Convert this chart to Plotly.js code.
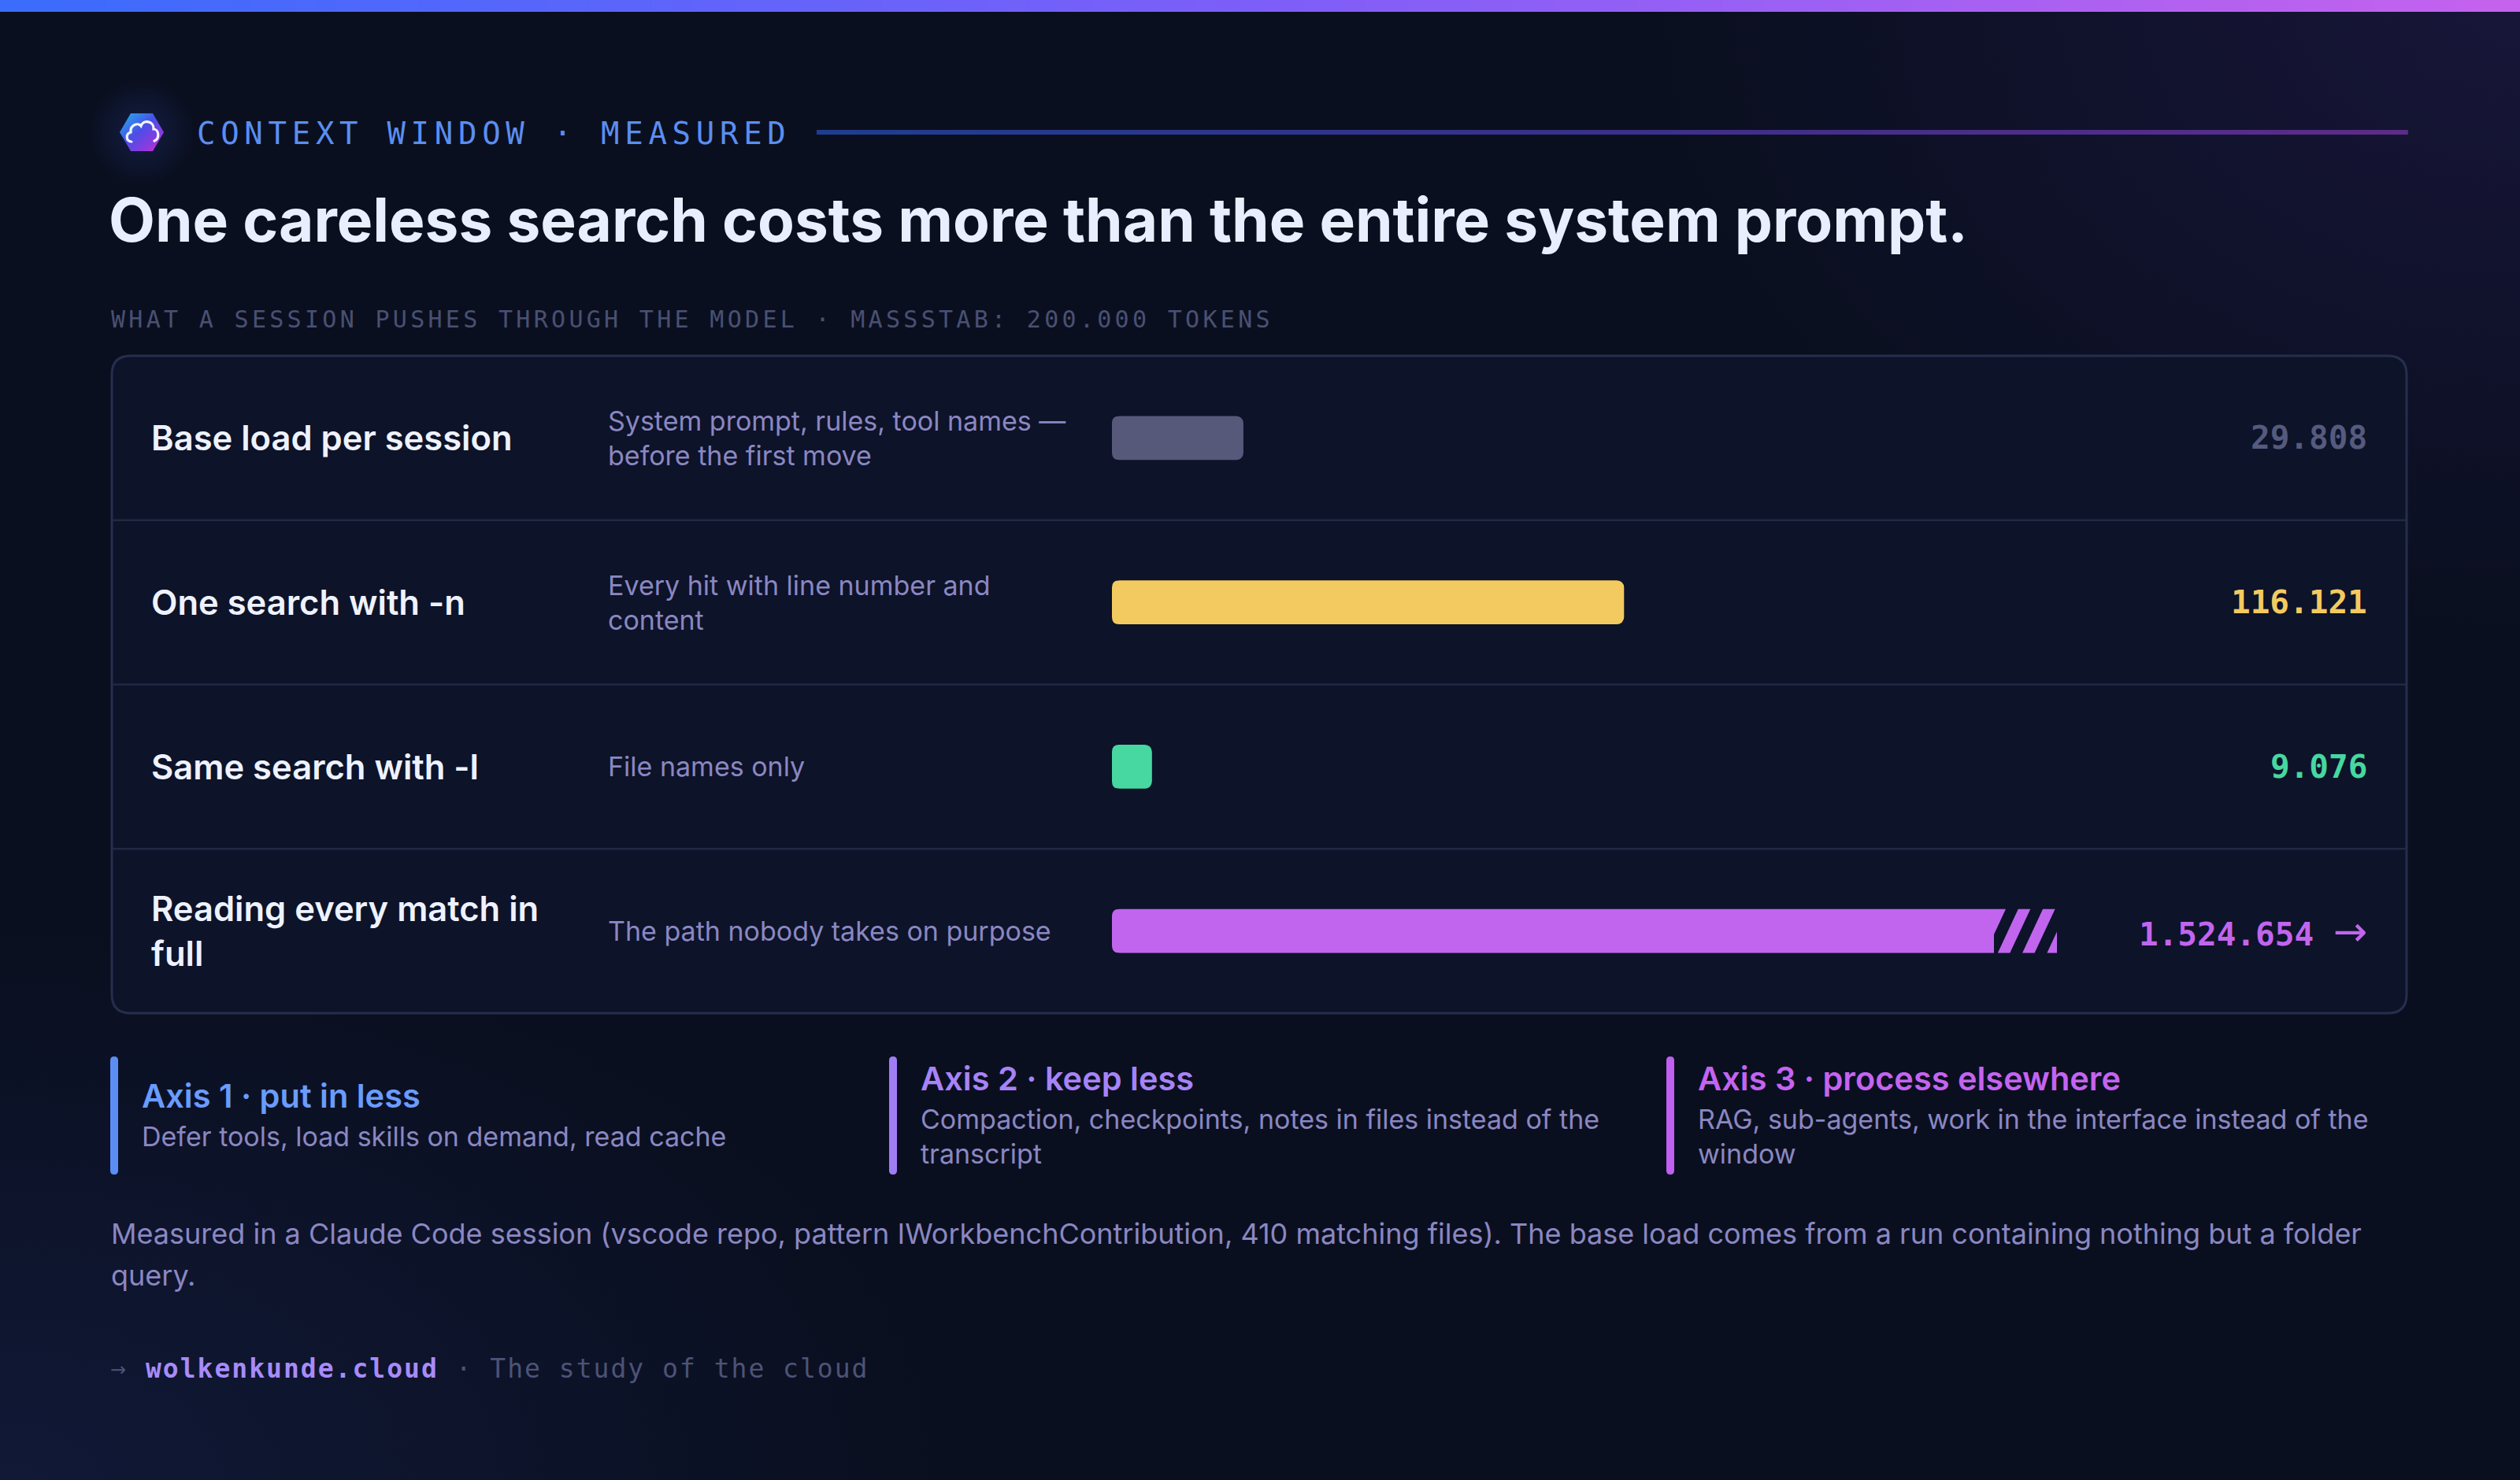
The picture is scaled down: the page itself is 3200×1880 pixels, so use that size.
<!DOCTYPE html>
<html>
<head>
<meta charset="utf-8">
<script src="https://cdn.plot.ly/plotly-3.0.1.min.js"></script>
<style>
  html, body { margin: 0; padding: 0; }
  body {
    width: 3200px; height: 1880px; overflow: hidden;
    background:
      radial-gradient(ellipse 1100px 800px at 100% 0%, rgba(70, 45, 150, 0.22), rgba(0,0,0,0) 100%),
      radial-gradient(ellipse 1200px 700px at 0% 100%, rgba(35, 55, 130, 0.24), rgba(0,0,0,0) 100%),
      #0a0f1f;
  }
  #chart { width: 3200px; height: 1880px; }
  /* tracking for the monospace captions */
  text[style*="font-size: 39px"] { letter-spacing: 6.7px; }
  text[style*="font-size: 30px"] { letter-spacing: 4.3px; }
  text[style*="font-size: 33px"] { letter-spacing: 2px; }
</style>
</head>
<body>
<div id="chart"></div>
<script>
// ---------------- data ----------------
const categories = ['Base load per session', 'One search with -n', 'Same search with -l', 'Reading every match in full'];
const labelLines = ['Base load per session', 'One search with -n', 'Same search with -l', 'Reading every match in<br>full'];
const descriptions = [
  'System prompt, rules, tool names —<br>before the first move',
  'Every hit with line number and<br>content',
  'File names only',
  'The path nobody takes on purpose'
];
const tokens = [29808, 116121, 9076, 1524654];
const scaleMax = 200000;
const barColors = ['#57597b', '#f3ca60', '#47d7a1', '#c165ef'];
const valueColors = ['#555a7e', '#f3ca60', '#47d7a1', '#c165ef'];

const axisTitles = ['Axis 1 · put in less', 'Axis 2 · keep less', 'Axis 3 · process elsewhere'];
const axisTexts = [
  'Defer tools, load skills on demand, read cache',
  'Compaction, checkpoints, notes in files instead of the<br>transcript',
  'RAG, sub-agents, work in the interface instead of the<br>window'
];
const axisColors = ['#5b8ef5', '#9f7df4', '#c05ff0'];
const axisTitleColors = ['#6a9cff', '#a783f8', '#c563f1'];

const kicker = 'CONTEXT WINDOW · MEASURED';
const headline = 'One careless search costs more than the entire system prompt.';
const footnoteLines = [
  'Measured in a Claude Code session (vscode repo, pattern IWorkbenchContribution, 410 matching files). The base load comes from a run containing nothing but a folder',
  'query.'
];
const siteName = 'wolkenkunde.cloud';
const siteTagline = 'The study of the cloud';

// ---------------- helpers ----------------
const W = 3200, H = 1880;
const px = x => x / W;
const py = y => 1 - y / H;
const fmt = v => String(v).replace(/\B(?=(\d{3})+(?!\d))/g, '.');
const SANS = 'Inter, "Noto Sans", sans-serif';
const MONO = '"DejaVu Sans Mono", "Liberation Mono", monospace';

function hexToRgb(h) { return [1,3,5].map(i => parseInt(h.substr(i,2),16)); }
function lerpColor(stops, t) {
  const n = stops.length - 1;
  const k = Math.min(n - 1, Math.floor(t * n));
  const u = t * n - k;
  const a = hexToRgb(stops[k]), b = hexToRgb(stops[k+1]);
  const c = a.map((v, i) => Math.round(v + (b[i] - v) * u));
  return 'rgb(' + c.join(',') + ')';
}
function P(x, y) { return px(x).toFixed(6) + ',' + py(y).toFixed(6); }
function roundRect(x0, y0, x1, y1, r) {
  return 'M' + P(x0 + r, y0) + ' L' + P(x1 - r, y0) + ' Q' + P(x1, y0) + ' ' + P(x1, y0 + r) +
    ' L' + P(x1, y1 - r) + ' Q' + P(x1, y1) + ' ' + P(x1 - r, y1) +
    ' L' + P(x0 + r, y1) + ' Q' + P(x0, y1) + ' ' + P(x0, y1 - r) +
    ' L' + P(x0, y0 + r) + ' Q' + P(x0, y0) + ' ' + P(x0 + r, y0) + ' Z';
}
function polyPath(pts) { return 'M' + pts.map(p => P(p[0], p[1])).join(' L') + ' Z'; }
function clipX(poly, a, keepGreater) {
  const out = [];
  const inside = p => keepGreater ? p[0] >= a : p[0] <= a;
  for (let i = 0; i < poly.length; i++) {
    const cur = poly[i], prev = poly[(i + poly.length - 1) % poly.length];
    const ci = inside(cur), pi = inside(prev);
    if (ci) {
      if (!pi) { const t = (a - prev[0]) / (cur[0] - prev[0]); out.push([a, prev[1] + t * (cur[1] - prev[1])]); }
      out.push(cur);
    } else if (pi) {
      const t = (a - prev[0]) / (cur[0] - prev[0]); out.push([a, prev[1] + t * (cur[1] - prev[1])]);
    }
  }
  return out;
}

// ---------------- geometry of the bar panel ----------------
const BOX = { x0: 142, y0: 452, x1: 3056, y1: 1287, r: 24 };
const TRACK = { x0: 1412, x1: 2532 };
const ROW_H = (BOX.y1 - BOX.y0) / categories.length;
const BAR_FRAC = 0.268;
const BAR_H = ROW_H * BAR_FRAC;
const rowCenter = i => BOX.y0 + (i + 0.5) * ROW_H;
const BOX_FILL = '#0d1328';

const shapes = [];
// top gradient strip
const topStops = ['#3b6cfc', '#7d5ef8', '#c562ee'];
for (let i = 0, n = 120; i < n; i++) {
  shapes.push({ type: 'rect', xref: 'paper', yref: 'paper', layer: 'below',
    x0: px(i * W / n), x1: px((i + 1) * W / n + 1), y0: py(0), y1: py(15),
    fillcolor: lerpColor(topStops, i / (n - 1)), line: { width: 0 } });
}
// kicker rule
const ruleStops = ['#1f3d8f', '#3a2f8a', '#5c2c88'];
for (let i = 0, n = 80, a = 1037, b = 3057; i < n; i++) {
  shapes.push({ type: 'rect', xref: 'paper', yref: 'paper', layer: 'below',
    x0: px(a + i * (b - a) / n), x1: px(a + (i + 1) * (b - a) / n + 0.8), y0: py(165), y1: py(171),
    fillcolor: lerpColor(ruleStops, i / (n - 1)), line: { width: 0 } });
}
// panel
shapes.push({ type: 'path', xref: 'paper', yref: 'paper', layer: 'below',
  path: roundRect(BOX.x0, BOX.y0, BOX.x1, BOX.y1, BOX.r),
  fillcolor: BOX_FILL, line: { color: '#262e4c', width: 3 } });
for (let k = 1; k < categories.length; k++) {
  const y = BOX.y0 + k * ROW_H;
  shapes.push({ type: 'line', xref: 'paper', yref: 'paper', layer: 'below',
    x0: px(BOX.x0 + 1), x1: px(BOX.x1 - 1), y0: py(y), y1: py(y),
    line: { color: '#212944', width: 2.5 } });
}
// round the base of each bar (Plotly rounds the far end only)
const R = 9;
categories.forEach((c, i) => {
  const yt = rowCenter(i) - BAR_H / 2, yb = rowCenter(i) + BAR_H / 2, x0 = TRACK.x0;
  shapes.push({ type: 'path', xref: 'paper', yref: 'paper', layer: 'above', fillcolor: BOX_FILL, line: { width: 0 },
    path: 'M' + P(x0 - 1, yt - 1) + ' L' + P(x0 + R, yt - 1) + ' L' + P(x0 + R, yt) + ' Q' + P(x0, yt) + ' ' + P(x0, yt + R) + ' L' + P(x0 - 1, yt + R) + ' Z' });
  shapes.push({ type: 'path', xref: 'paper', yref: 'paper', layer: 'above', fillcolor: BOX_FILL, line: { width: 0 },
    path: 'M' + P(x0 - 1, yb + 1) + ' L' + P(x0 + R, yb + 1) + ' L' + P(x0 + R, yb) + ' Q' + P(x0, yb) + ' ' + P(x0, yb - R) + ' L' + P(x0 - 1, yb - R) + ' Z' });
});
// break marks for values beyond the scale
const annotations = [];
categories.forEach((c, i) => {
  if (tokens[i] <= scaleMax) return;
  const yt = rowCenter(i) - BAR_H / 2, yb = rowCenter(i) + BAR_H / 2;
  const a = TRACK.x1, b = a + 80;
  const period = 31.3, stripe = 15.5, shift = 26;
  for (let tl = a - 0.5 - period; tl < b + shift + period; tl += period) {
    let poly = [[tl, yt], [tl + stripe, yt], [tl + stripe - shift, yb], [tl - shift, yb]];
    poly = clipX(clipX(poly, a, true), b, false);
    if (poly.length >= 3) shapes.push({ type: 'path', xref: 'paper', yref: 'paper', layer: 'above',
      path: polyPath(poly), fillcolor: barColors[i], line: { width: 0 } });
  }
});
// axis cards
const cardX = [140, 1129, 2116];
cardX.forEach((x, i) => {
  shapes.push({ type: 'path', xref: 'paper', yref: 'paper', layer: 'below',
    path: roundRect(x, 1342, x + 10, 1492, 5), fillcolor: axisColors[i], line: { width: 0 } });
});

// ---------------- texts ----------------
const A = (o) => Object.assign({ xref: 'paper', yref: 'paper', showarrow: false, xanchor: 'left', yanchor: 'middle', align: 'left' }, o);
annotations.push(A({ x: px(248), y: py(169), text: kicker, font: { family: MONO, size: 39, color: '#5b8ef0' } }));
annotations.push(A({ x: px(136), y: py(279), text: headline, font: { family: SANS, size: 76.5, color: '#e9eeff', weight: 700 } }));
annotations.push(A({ x: px(139), y: py(405),
  text: 'WHAT A SESSION PUSHES THROUGH THE MODEL · MASSSTAB: ' + fmt(scaleMax) + ' TOKENS',
  font: { family: MONO, size: 30, color: '#4a5073' } }));

categories.forEach((c, i) => {
  annotations.push(A({ x: px(190), yref: 'y', y: c, text: labelLines[i],
    font: { family: SANS, size: 43.5, color: '#eef2ff', weight: 600 } }));
  annotations.push(A({ x: px(770), yref: 'y', y: c, text: descriptions[i],
    font: { family: SANS, size: 34, color: '#8b87c2' } }));
  const over = tokens[i] > scaleMax;
  annotations.push(A({ x: px(3008), yref: 'y', y: c, xanchor: 'right', align: 'right',
    text: '<b>' + fmt(tokens[i]) + '</b>' + (over ? ' <span style="font-family:DejaVu Sans;font-size:52px">→</span>' : ''),
    font: { family: MONO, size: 41, color: valueColors[i] } }));
});

cardX.forEach((x, i) => {
  const nLines = axisTexts[i].split('<br>').length;
  const descCenter = 1443;
  const firstLine = descCenter - (nLines - 1) * 44.2 / 2;
  annotations.push(A({ x: px(x + 38), y: py(firstLine - 51), text: axisTitles[i],
    font: { family: SANS, size: 41.5, color: axisTitleColors[i], weight: 600 } }));
  annotations.push(A({ x: px(x + 38), y: py(descCenter), text: axisTexts[i],
    font: { family: SANS, size: 34, color: '#8b87c2' } }));
});

footnoteLines.forEach((t, k) => {
  annotations.push(A({ x: px(139), y: py(1567 + k * 53), text: t,
    font: { family: SANS, size: 36, color: '#8b87c2' } }));
});
annotations.push(A({ x: px(138), y: py(1740), text: '→', font: { family: 'DejaVu Sans', size: 24, color: '#4d5377' } }));
annotations.push(A({ x: px(183), y: py(1738),
  text: '<b>' + siteName + '</b><span style="color:#4d5377"> · ' + siteTagline + '</span>',
  font: { family: MONO, size: 33, color: '#a78bfa' } }));

// ---------------- logo ----------------
const logoSvg =
  "<svg xmlns='http://www.w3.org/2000/svg' width='140' height='140' viewBox='0 0 140 140'>" +
  "<defs><radialGradient id='glow' cx='0.5' cy='0.5' r='0.5'><stop offset='0' stop-color='#1b2a66' stop-opacity='0.55'/><stop offset='1' stop-color='#1b2a66' stop-opacity='0'/></radialGradient>" +
  "<linearGradient id='hx' x1='0' y1='0' x2='1' y2='1'><stop offset='0' stop-color='#1fb6ee'/><stop offset='0.45' stop-color='#4b4ee6'/><stop offset='0.75' stop-color='#8a3be0'/><stop offset='1' stop-color='#e02bc8'/></linearGradient></defs>" +
  "<circle cx='70' cy='70' r='68' fill='url(#glow)'/>" +
  "<polygon points='56,46 84,46 98,70 84,94 56,94 42,70' fill='url(#hx)'/>" +
  "<path d='M57 82 C50 82 49 72 56 70 C55 61 65 57 69 62 C72 53 86 56 85 66 C92 66 93 78 86 81' fill='none' stroke='#f2f4ff' stroke-width='3.2' stroke-linecap='round'/>" +
  "</svg>";
const images = [{ source: 'data:image/svg+xml;charset=utf-8,' + encodeURIComponent(logoSvg),
  xref: 'paper', yref: 'paper', x: px(180), y: py(168), sizex: 140 / W, sizey: 140 / H,
  xanchor: 'center', yanchor: 'middle', sizing: 'stretch', layer: 'above' }];

// ---------------- chart ----------------
const trace = {
  type: 'bar', orientation: 'h', y: categories, x: tokens,
  width: BAR_FRAC, marker: { color: barColors, cornerradius: R, line: { width: 0 } },
  hoverinfo: 'skip', showlegend: false
};

const layout = {
  width: W, height: H, margin: { l: 0, r: 0, t: 0, b: 0, pad: 0 },
  paper_bgcolor: 'rgba(0,0,0,0)', plot_bgcolor: 'rgba(0,0,0,0)',
  showlegend: false, hovermode: false,
  xaxis: { domain: [px(TRACK.x0), px(TRACK.x1)], range: [0, scaleMax], visible: false, fixedrange: true },
  yaxis: { domain: [py(BOX.y1), py(BOX.y0)], type: 'category', categoryarray: categories,
    range: [categories.length - 0.5, -0.5], visible: false, fixedrange: true },
  shapes: shapes, annotations: annotations, images: images
};

Plotly.newPlot('chart', [trace], layout, { staticPlot: true, displayModeBar: false });
</script>
</body>
</html>
